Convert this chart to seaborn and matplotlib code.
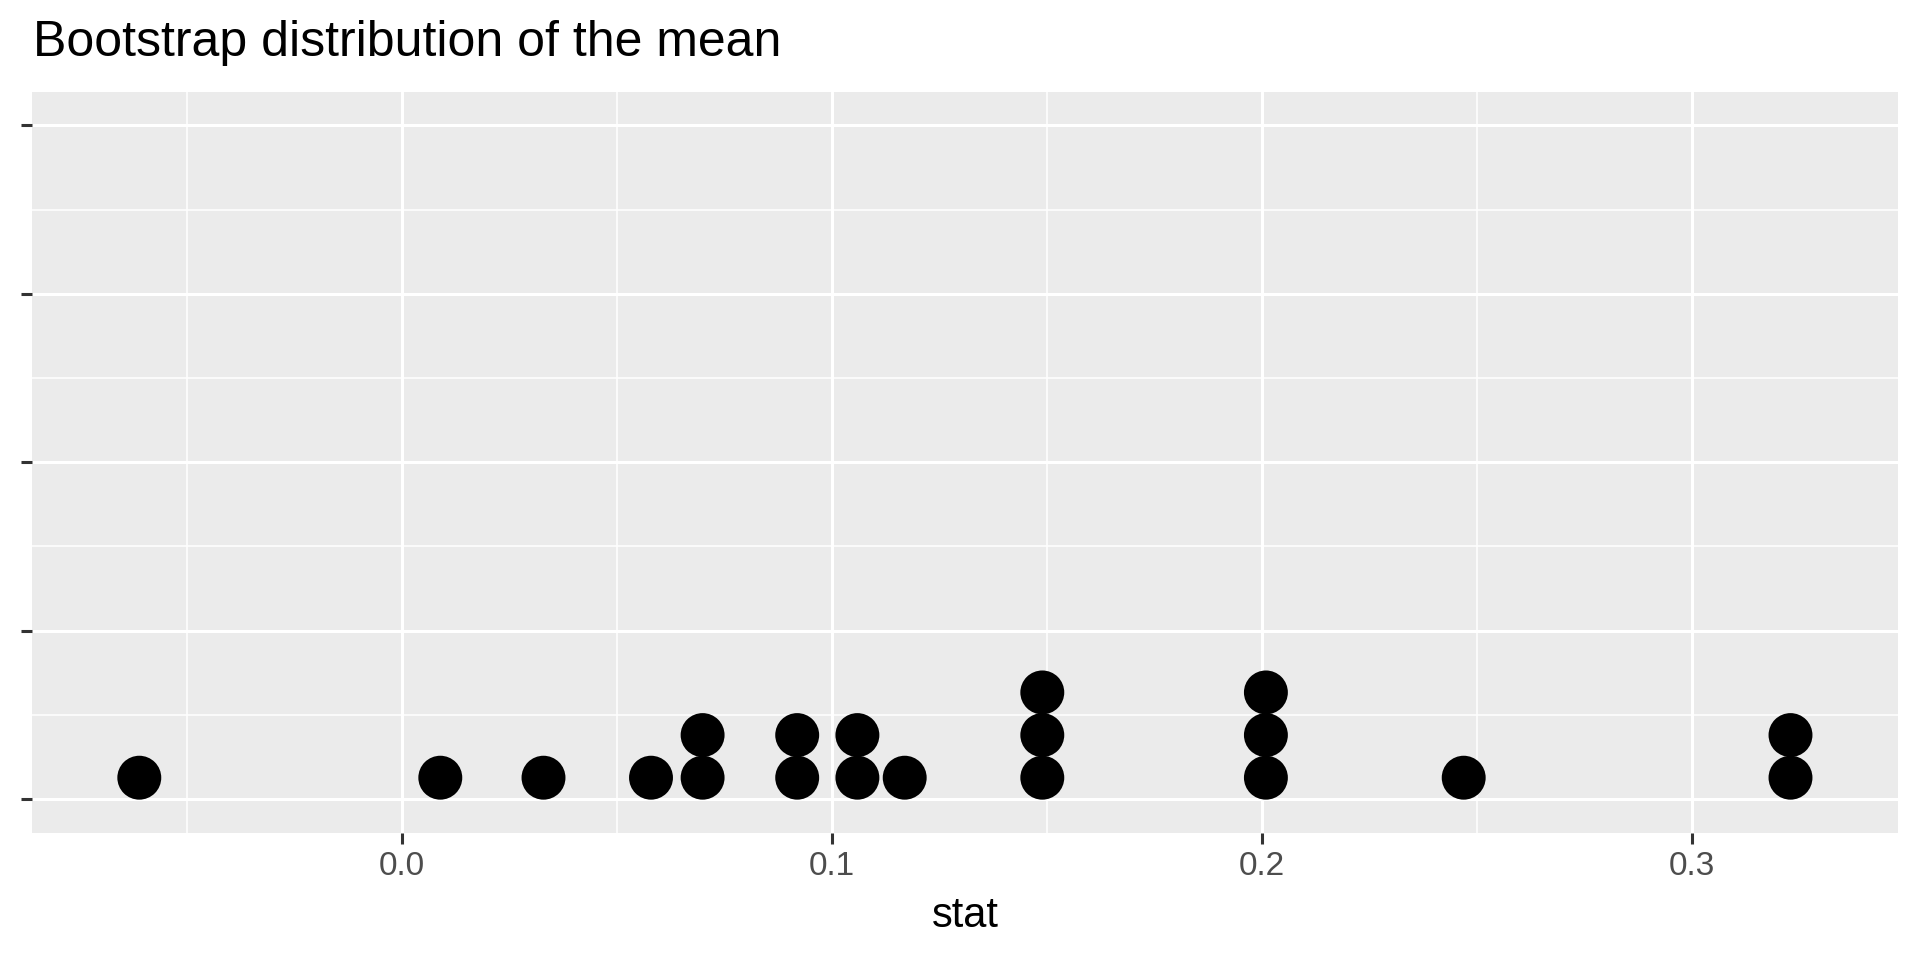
import pandas as pd
import numpy as np
import matplotlib.pyplot as plt
import seaborn as sns
from matplotlib.ticker import MultipleLocator

# bootstrap means (one entry per dot)
stat = [-0.061, 0.009, 0.033, 0.058, 0.070, 0.070, 0.092, 0.092,
        0.106, 0.106, 0.117, 0.149, 0.149, 0.149, 0.201, 0.201,
        0.201, 0.247, 0.323, 0.323]
x_ticks = [0.0, 0.1, 0.2, 0.3]
x_labels = ["0.0", "0.1", "0.2", "0.3"]

dot_h = 0.0633  # stacking step in y units (one dot diameter)

df = pd.DataFrame({"stat": stat})
df["stack"] = df.groupby("stat").cumcount()
df["count"] = (df["stack"] + 0.5) * dot_h

sns.set_theme(style="darkgrid")
plt.rcParams['font.family'] = ['Liberation Sans', 'DejaVu Sans']

fig = plt.figure(figsize=(19.2, 9.6), dpi=100)
ax = fig.add_axes([31.8 / 1920, 1 - 832.7 / 960, (1898 - 31.8) / 1920, (832.7 - 91.8) / 960])
ax.set_facecolor("#EBEBEB")

sns.scatterplot(data=df, x="stat", y="count", ax=ax, color="black",
                s=1000, edgecolor="none", legend=False, zorder=3)

ax.set_xlim(-0.086, 0.348)
ax.set_ylim(-0.05, 1.05)
ax.set_xticks(x_ticks)
ax.set_xticklabels(x_labels)
ax.xaxis.set_minor_locator(MultipleLocator(0.05))
ax.set_yticks([0, 0.25, 0.5, 0.75, 1.0])
ax.set_yticklabels([])
ax.yaxis.set_minor_locator(MultipleLocator(0.125))

ax.grid(which="major", color="white", linewidth=2.2)
ax.grid(which="minor", color="white", linewidth=1.1)
ax.set_axisbelow(True)
for sp in ax.spines.values():
    sp.set_visible(False)

ax.tick_params(axis="both", which="major", length=7.9, width=2.2, color="#333333",
               labelsize=24, labelcolor="#4D4D4D", pad=5)
ax.tick_params(axis="both", which="minor", length=0)
ax.tick_params(axis="x", bottom=True)
ax.tick_params(axis="y", left=True)

ax.set_xlabel("stat", fontsize=30, color="black", labelpad=10)
ax.set_ylabel("")
fig.text(33 / 1920, 1 - 43 / 960, "Bootstrap distribution of the mean",
         fontsize=36, color="black", va="center", ha="left")

fig.savefig("out.png", dpi=100)
